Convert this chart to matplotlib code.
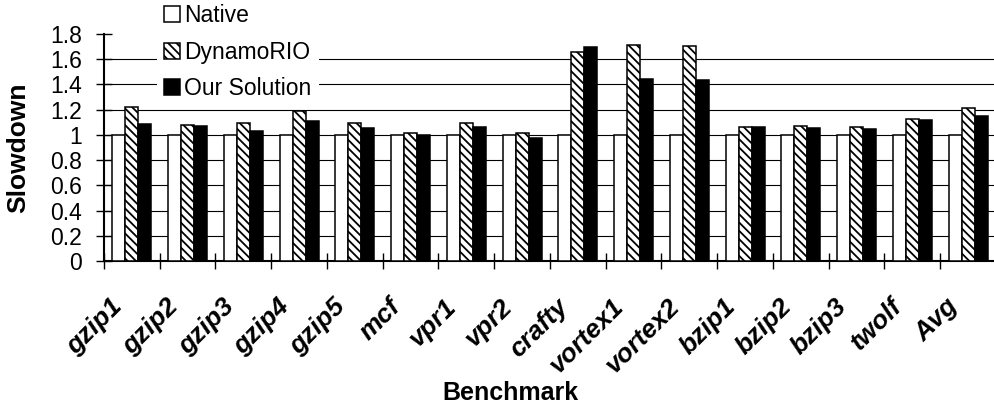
import numpy as np
import matplotlib
matplotlib.use("Agg")
import matplotlib.pyplot as plt
from matplotlib.patches import Patch
from matplotlib.transforms import ScaledTranslation

plt.rcParams['font.family'] = ['Liberation Sans', 'DejaVu Sans']
plt.rcParams['hatch.linewidth'] = 1.3

benchmarks = ["gzip1", "gzip2", "gzip3", "gzip4", "gzip5", "mcf", "vpr1", "vpr2",
              "crafty", "vortex1", "vortex2", "bzip1", "bzip2", "bzip3", "twolf", "Avg"]
native = [1.0] * 16
dynamorio = [1.22, 1.075, 1.095, 1.19, 1.093, 1.018, 1.097, 1.013,
             1.655, 1.715, 1.705, 1.06, 1.068, 1.06, 1.126, 1.213]
our_solution = [1.086, 1.07, 1.033, 1.113, 1.052, 0.997, 1.06, 0.978,
                1.695, 1.446, 1.435, 1.06, 1.057, 1.044, 1.12, 1.15]
yticks = [0, 0.2, 0.4, 0.6, 0.8, 1, 1.2, 1.4, 1.6, 1.8]

W, H = 995, 409
fig = plt.figure(figsize=(W / 100, H / 100), dpi=100)
ax = fig.add_axes([104 / W, 1 - 261 / H, 892 / W, 227 / H])

x = np.arange(len(benchmarks))
bw = 0.232
ax.bar(x - bw, native, bw, color="white", edgecolor="black", linewidth=1.1, zorder=3)
ax.bar(x, dynamorio, bw, color="white", edgecolor="black", linewidth=1.1,
       hatch="\\\\\\\\", zorder=3)
ax.bar(x + bw, our_solution, bw, color="black", edgecolor="black", linewidth=1.1, zorder=3)

ax.set_xlim(-0.5, len(benchmarks) - 0.5)
ax.set_ylim(0, 1.8)
ax.set_yticks(yticks)
ax.set_yticklabels([f"{v:g}" for v in yticks], fontsize=16.5)
ax.yaxis.grid(True, color="black", linewidth=0.8, zorder=0)
ax.get_ygridlines()[-1].set_visible(False)
ax.set_axisbelow(True)

ax.set_xticks(x)
ax.set_xticklabels(benchmarks, rotation=45, ha="right", va="top",
                   fontsize=19, fontweight="bold", fontstyle="italic")
ax.set_xticks(np.arange(len(benchmarks) + 1) - 0.5, minor=True)
ax.tick_params(axis="x", which="major", length=0, pad=24)
ax.tick_params(axis="x", which="minor", direction="inout", length=12, width=1)
ax.tick_params(axis="y", direction="inout", length=12, width=1, pad=10)
shift = ScaledTranslation(-5 / 100, 0, fig.dpi_scale_trans)
for lab in ax.get_xticklabels():
    lab.set_transform(lab.get_transform() + shift)

for s in ["top", "right"]:
    ax.spines[s].set_visible(False)
for s in ["left", "bottom"]:
    ax.spines[s].set_linewidth(1.5)

fig.text(18 / W, 1 - 148 / H, "Slowdown", rotation=90, ha="center", va="center",
         fontsize=19, fontweight="bold")
fig.text(510 / W, 1 - 393 / H, "Benchmark", ha="center", va="center",
         fontsize=18, fontweight="bold")

handles = [Patch(facecolor="white", edgecolor="black", linewidth=1.1),
           Patch(facecolor="white", edgecolor="black", linewidth=1.1, hatch="\\\\\\\\"),
           Patch(facecolor="black", edgecolor="black", linewidth=1.1)]
leg = fig.legend(handles, ["Native", "DynamoRIO", "Our Solution"],
                 loc="upper left", bbox_to_anchor=(157 / W, 1.0075),
                 fontsize=16.5, frameon=True, fancybox=False, framealpha=1,
                 edgecolor="white", borderpad=0.3, borderaxespad=0,
                 handlelength=0.7, handleheight=0.7, handletextpad=0.2,
                 labelspacing=0.6)
leg.get_frame().set_linewidth(0)

fig.savefig("out.png", dpi=100)
